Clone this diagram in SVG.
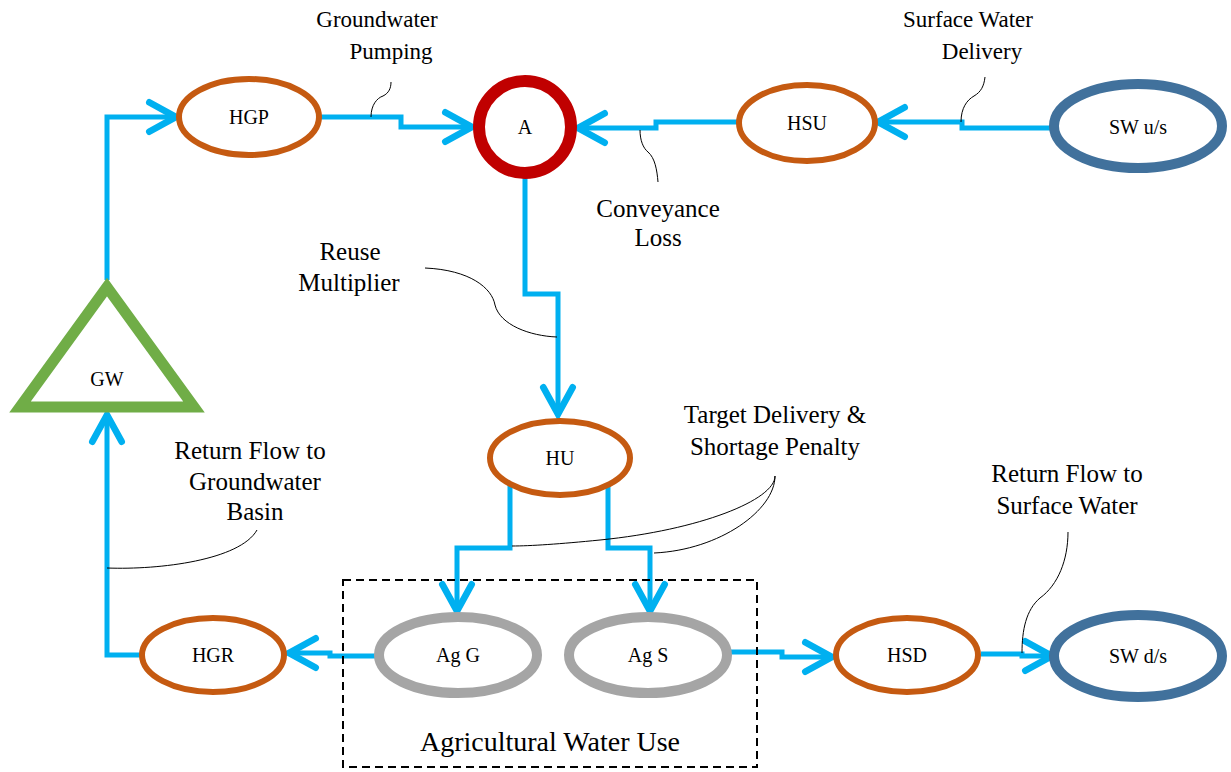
<svg xmlns="http://www.w3.org/2000/svg" width="1231" height="772" viewBox="0 0 1231 772">
<defs>
<marker id="arr" markerUnits="userSpaceOnUse" markerWidth="40" markerHeight="40" viewBox="-25 -15 30 30" refX="0" refY="0" orient="auto" overflow="visible">
<path d="M-20,-11 L0,0 L-20,11" fill="none" stroke="#00B0F0" stroke-width="5" stroke-linecap="round" stroke-linejoin="miter"/>
</marker>
</defs>
<style>
.bg{fill:#fff}
.h{fill:#fff;stroke:#C55A11;stroke-width:6}
.sw{fill:#fff;stroke:#41719C;stroke-width:10}
.ag{fill:#fff;stroke:#A5A5A5;stroke-width:10}
.c{fill:none;stroke:#00B0F0;stroke-width:5;marker-end:url(#arr)}
.l{fill:none;stroke:#000;stroke-width:1}
.t{font-family:"Liberation Serif","Times New Roman",serif;font-size:20px;fill:#000;text-anchor:middle}
.a{font-family:"Liberation Serif","Times New Roman",serif;font-size:25px;fill:#000;text-anchor:middle}
.s{font-size:23px}
</style>
<rect class="bg" x="0" y="0" width="1231" height="772"/>
<g id="connectors">
<path class="c" d="M107,280 L107,117 L176,117"/>
<path class="c" d="M320,117 L401,117 L401,127 L472,127"/>
<path class="c" d="M1051,128 L962,128 L962,122 L878,122"/>
<path class="c" d="M738,122 L656,122 L656,128 L578,128"/>
<path class="c" d="M525,178 L525,294 L558,294 L558,414"/>
<path class="c" d="M510,484 L510,548 L457,548 L457,611"/>
<path class="c" d="M608,484 L608,548 L650,548 L650,611"/>
<path class="c" d="M376,656 L330,656 L330,653 L289,653"/>
<path class="c" d="M141,655 L107,655 L107,415"/>
<path class="c" d="M731,652 L782,652 L782,657 L832,657"/>
<path class="c" d="M981,654 L1022,654 L1022,656 L1052,656"/>
</g>
<g id="leaders">
<path class="l" d="M371,117 C371,105 377,98 383,96 C389,93 391,88 391,82"/>
<path class="l" d="M961,122 C961,108 967,100 974,96 C981,92 984,86 985,77"/>
<path class="l" d="M640,130 C640,140 643,148 648,152 C655,158 657,170 658,182"/>
<path class="l" d="M425,268 C470,270 492,288 495,305 C500,325 530,336 557,337"/>
<path class="l" d="M775,476 C775,500 700,530 600,540 C560,544 530,546 512,546"/>
<path class="l" d="M775,476 C775,510 720,550 654,553"/>
<path class="l" d="M107,568 C160,570 240,560 257,530"/>
<path class="l" d="M1022,653 C1022,630 1026,610 1040,598 C1058,585 1068,560 1068,532"/>
</g>
<g id="GW">
<polygon points="107,287 20,407 194,407" fill="#fff" stroke="#70AD47" stroke-width="11" stroke-linejoin="miter"/>
<text class="t" x="107" y="386">GW</text>
</g>
<g id="HGP">
<ellipse class="h" cx="249" cy="117" rx="70" ry="38"/>
<text class="t" x="249" y="124">HGP</text>
</g>
<g id="A">
<circle cx="525" cy="127" r="46" fill="#fff" stroke="#C00000" stroke-width="12"/>
<text class="t" x="525" y="134">A</text>
</g>
<g id="HSU">
<ellipse class="h" cx="807" cy="123" rx="68" ry="38"/>
<text class="t" x="807" y="130">HSU</text>
</g>
<g id="SWus">
<ellipse class="sw" cx="1138" cy="126" rx="84" ry="42"/>
<text class="t" x="1138" y="134">SW u/s</text>
</g>
<g id="HU">
<ellipse class="h" cx="560" cy="458" rx="70" ry="37"/>
<text class="t" x="560" y="465">HU</text>
</g>
<g id="AgWaterUse">
<rect x="343" y="580" width="414" height="187" fill="none" stroke="#000" stroke-width="2" stroke-dasharray="8,5"/>
<text class="a" x="550" y="751" style="font-size:28px">Agricultural Water Use</text>
</g>
<g id="AgG">
<ellipse class="ag" cx="458" cy="655" rx="79" ry="38"/>
<text class="t" x="458" y="662">Ag G</text>
</g>
<g id="AgS">
<ellipse class="ag" cx="648" cy="655" rx="79" ry="38"/>
<text class="t" x="648" y="662">Ag S</text>
</g>
<g id="HGR">
<ellipse class="h" cx="213" cy="655" rx="71" ry="37"/>
<text class="t" x="213" y="662">HGR</text>
</g>
<g id="HSD">
<ellipse class="h" cx="907" cy="655" rx="71" ry="37"/>
<text class="t" x="907" y="662">HSD</text>
</g>
<g id="SWds">
<ellipse class="sw" cx="1138" cy="656" rx="84" ry="41"/>
<text class="t" x="1138" y="663">SW d/s</text>
</g>
<g id="labels">
<text class="a s" x="377" y="27">Groundwater</text>
<text class="a s" x="391" y="59">Pumping</text>
<text class="a s" x="968" y="27">Surface Water</text>
<text class="a s" x="982" y="59">Delivery</text>
<text class="a" x="658" y="217">Conveyance</text>
<text class="a" x="658" y="246">Loss</text>
<text class="a" x="350" y="260">Reuse</text>
<text class="a" x="349" y="291">Multiplier</text>
<text class="a" x="775" y="423">Target Delivery &amp;</text>
<text class="a" x="775" y="455">Shortage Penalty</text>
<text class="a" x="250" y="459">Return Flow to</text>
<text class="a" x="255" y="490">Groundwater</text>
<text class="a" x="255" y="520">Basin</text>
<text class="a" x="1067" y="482">Return Flow to</text>
<text class="a" x="1067" y="514">Surface Water</text>
</g>
</svg>
